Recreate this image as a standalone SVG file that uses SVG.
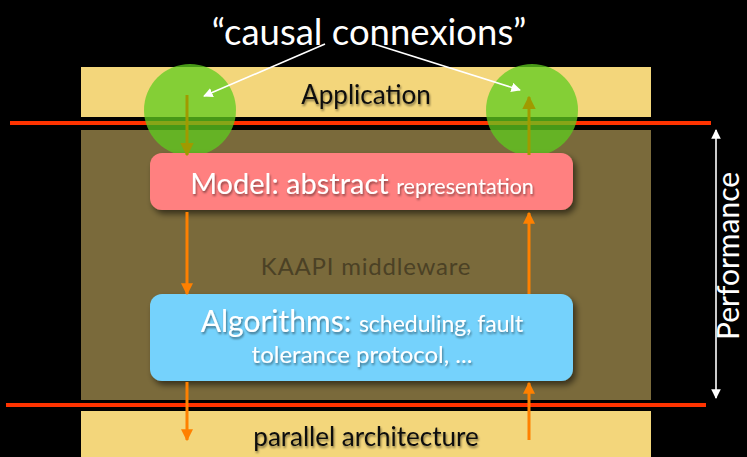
<svg xmlns="http://www.w3.org/2000/svg" width="747" height="457" viewBox="0 0 747 457">
  <style>
    text { font-family: Lato, "Open Sans", "Liberation Sans", sans-serif; }
    .band { fill: #f3d67b; }
    .mid { fill: #7a6a3b; }
    .redline { stroke: #ff3300; stroke-width: 4; }
    .orange { stroke: #ff8000; stroke-width: 3; fill: none; }
    .olive { stroke: #a09a00; stroke-width: 3; fill: none; }
    .white { stroke: #ffffff; stroke-width: 1.6; fill: none; }
    .box-text { fill: #ffffff; text-anchor: middle; }
    .layer-label { fill: #111; text-anchor: middle; font-size: 26px; }
  </style>
  <defs>
    <marker id="ahOrange" viewBox="0 0 10 10" refX="9" refY="5" markerWidth="4" markerHeight="4" orient="auto" markerUnits="strokeWidth">
      <path d="M0,0 L10,5 L0,10 Z" fill="#ff8000"/>
    </marker>
    <marker id="ahOlive" viewBox="0 0 10 10" refX="9" refY="5" markerWidth="4.5" markerHeight="4.5" orient="auto" markerUnits="strokeWidth">
      <path d="M0,0 L10,5 L0,10 Z" fill="#a09a00"/>
    </marker>
    <marker id="ahWhite" viewBox="0 0 10 10" refX="9" refY="5" markerWidth="6" markerHeight="6" orient="auto" markerUnits="strokeWidth">
      <path d="M0,0 L10,5 L0,10 Z" fill="#ffffff"/>
    </marker>
    <marker id="ahWhiteStart" viewBox="0 0 10 10" refX="1" refY="5" markerWidth="6" markerHeight="6" orient="auto" markerUnits="strokeWidth">
      <path d="M10,0 L0,5 L10,10 Z" fill="#ffffff"/>
    </marker>
    <filter id="shadow" x="-10%" y="-20%" width="120%" height="150%">
      <feDropShadow dx="3" dy="4" stdDeviation="3" flood-color="#000" flood-opacity="0.55"/>
    </filter>
    <filter id="textShadow" x="-10%" y="-30%" width="120%" height="160%">
      <feDropShadow dx="1" dy="2" stdDeviation="1.2" flood-color="#000" flood-opacity="0.45"/>
    </filter>
  </defs>

  <rect width="747" height="457" fill="#000"/>

  <!-- layer bands -->
  <g id="application">
    <rect class="band" x="81" y="67" width="570" height="50"/>
    <text class="layer-label" x="366" y="104" filter="url(#textShadow)">Application</text>
  </g>
  <g id="middleware">
    <rect class="mid" x="81" y="130" width="570" height="270"/>
    <text x="366" y="275" text-anchor="middle" font-size="24" letter-spacing="0.8" fill="#4b4125">KAAPI middleware</text>
  </g>
  <g id="architecture">
    <rect class="band" x="81" y="411" width="570" height="46"/>
    <text class="layer-label" x="366" y="446" filter="url(#textShadow)">parallel architecture</text>
  </g>

  <!-- layer boundaries -->
  <g id="boundaries">
    <line class="redline" x1="10" y1="123" x2="711" y2="123"/>
    <line class="redline" x1="6" y1="405" x2="706" y2="405"/>
  </g>

  <!-- causal connexion highlights -->
  <g id="highlights">
    <ellipse cx="190" cy="110" rx="46" ry="46" fill="#5fcc1f" fill-opacity="0.75"/>
    <ellipse cx="532" cy="110" rx="46" ry="46" fill="#5fcc1f" fill-opacity="0.75"/>
  </g>

  <g id="model">
    <rect x="150" y="153" width="423" height="57" rx="12" fill="#ff8080" filter="url(#shadow)"/>
    <text class="box-text" x="362" y="194" filter="url(#textShadow)"><tspan font-size="29">Model: abstract </tspan><tspan font-size="21.5">representation</tspan></text>
  </g>

  <g id="algorithms">
    <rect x="150" y="294" width="423" height="87" rx="12" fill="#74d2fc" filter="url(#shadow)"/>
    <text class="box-text" x="362" y="332" filter="url(#textShadow)"><tspan font-size="30">Algorithms: </tspan><tspan font-size="23">scheduling, fault</tspan></text>
    <text class="box-text" x="362" y="363" font-size="24" filter="url(#textShadow)">tolerance protocol, ...</text>
  </g>

  <g id="title">
    <text x="369" y="45" text-anchor="middle" font-size="36.5" fill="#ffffff">“causal connexions”</text>
  </g>

  <g id="performance">
    <text transform="translate(739,256) rotate(-90)" text-anchor="middle" font-size="30" fill="#ffffff">Performance</text>
  </g>

  <g id="connectors">
    <!-- title pointers -->
    <line class="white" x1="325" y1="44" x2="204" y2="96" marker-end="url(#ahWhite)"/>
    <line class="white" x1="374" y1="44" x2="520" y2="90" marker-end="url(#ahWhite)"/>
    <!-- performance axis -->
    <line class="white" x1="716" y1="130" x2="716" y2="398" marker-start="url(#ahWhiteStart)" marker-end="url(#ahWhite)"/>
    <!-- application <-> model -->
    <line class="olive" x1="187" y1="95" x2="187" y2="155" marker-end="url(#ahOlive)"/>
    <line class="olive" x1="529" y1="155" x2="529" y2="97" marker-end="url(#ahOlive)"/>
    <!-- model <-> algorithms -->
    <line class="orange" x1="187" y1="212" x2="187" y2="294" marker-end="url(#ahOrange)"/>
    <line class="orange" x1="529" y1="294" x2="529" y2="213" marker-end="url(#ahOrange)"/>
    <!-- algorithms <-> architecture -->
    <line class="orange" x1="187" y1="382" x2="187" y2="440" marker-end="url(#ahOrange)"/>
    <line class="orange" x1="529" y1="440" x2="529" y2="383" marker-end="url(#ahOrange)"/>
  </g>
</svg>
